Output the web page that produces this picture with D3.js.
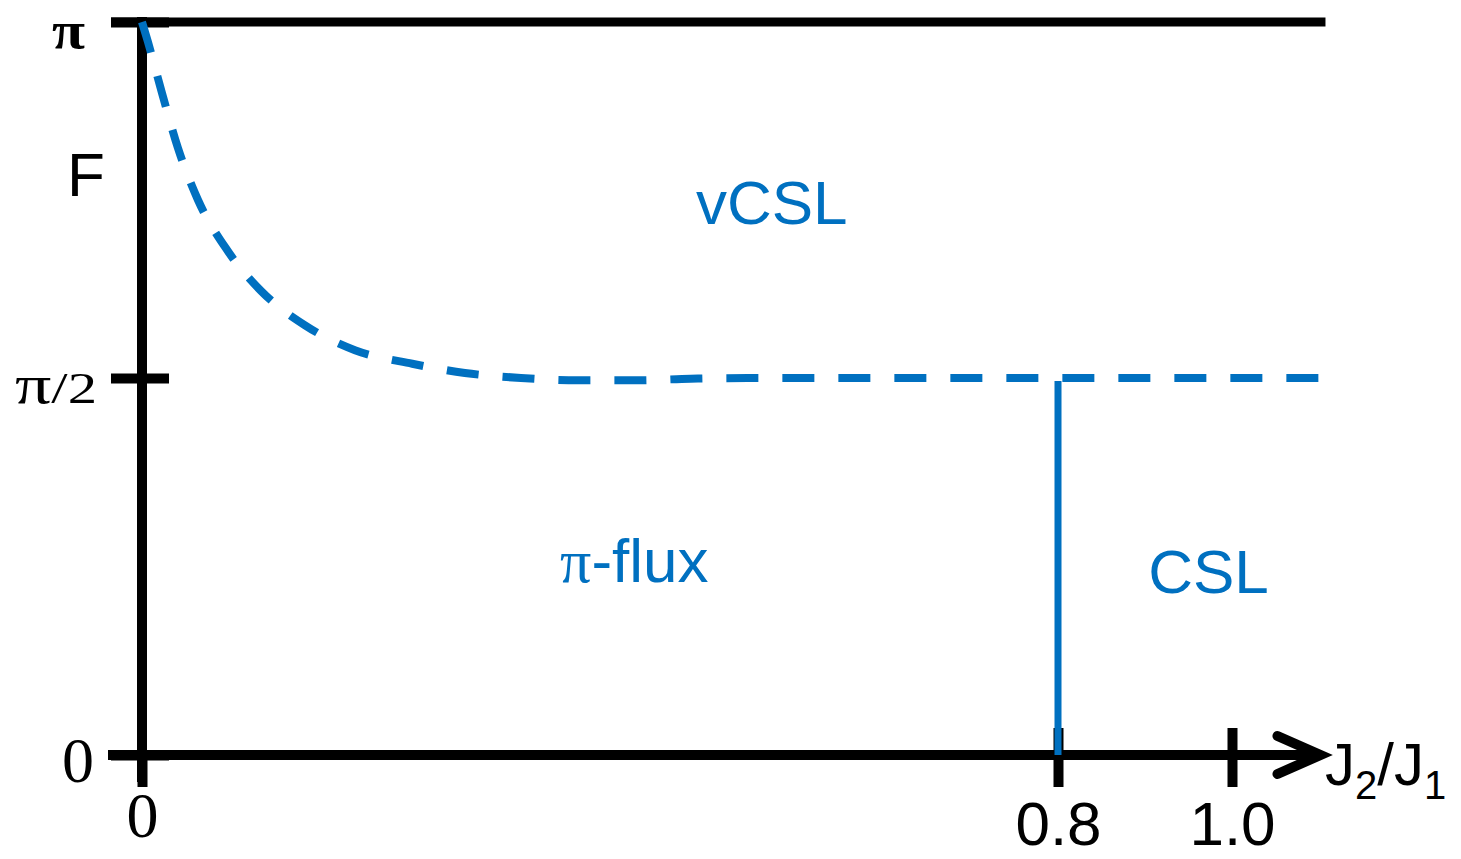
<!DOCTYPE html>
<html>
<head>
<meta charset="utf-8">
<script src="https://cdn.jsdelivr.net/npm/d3@7"></script>
<style>
  body { margin: 0; background: #ffffff; }
  svg { display: block; }
</style>
</head>
<body>
<svg id="chart" width="1461" height="859"></svg>
<script>
// Coupling ratio J2/J1 ticks (schematic axis, piecewise linear)
const xTicks = [0, 0.8, 1.0];
const xTickLabels = ["0", "0.8", "1.0"];
// Flux per plaquette, in units of π
const yTicks = [0, 0.5, 1];
const yTickLabels = ["0", "π/2", "π"];
const xMax = 1.104;

// vCSL / π-flux phase boundary (dashed)
const boundaryJ    = [0, 0.0052, 0.0175, 0.0314, 0.0489, 0.0742, 0.1048, 0.1424, 0.186, 0.236, 0.282, 0.331, 0.381, 0.431, 0.479, 0.529, 0.8, 1.102];
const boundaryFlux = [1.0, 0.972, 0.900, 0.823, 0.750, 0.680, 0.621, 0.574, 0.539, 0.520, 0.507, 0.500, 0.497, 0.497, 0.499, 0.500, 0.500, 0.500];

// π-flux / CSL transition (solid vertical)
const transitionJ = 0.8;
const transitionFlux = [0, 0.5];

// Phase names and where they sit in the diagram
const phaseNames = ["vCSL", "π-flux", "CSL"];
const phaseJ     = [0.55, 0.43, 0.973];
const phaseFlux  = [0.716, 0.229, 0.215];

const BLUE = "#0070C0";
const SERIF = "'Liberation Serif', 'Times New Roman', serif";
const SANS = "'Liberation Sans', Arial, sans-serif";

const svg = d3.select("#chart");

const x = d3.scaleLinear().domain(xTicks).range([142, 1058, 1232]);
const y = d3.scaleLinear().domain(yTicks).range([755, 378, 22]);

// ---- Y axis ----
const yAxisG = svg.append("g").attr("transform", `translate(${x(0)},0)`);
yAxisG.call(
  d3.axisLeft(y).tickValues(yTicks).tickSize(0)
    .tickFormat((d, i) => yTickLabels[i])
);
yAxisG.select(".domain").remove();
yAxisG.append("line")
  .attr("x1", 0).attr("x2", 0)
  .attr("y1", y(1) - 5).attr("y2", y(0) + 27)
  .attr("stroke", "#000").attr("stroke-width", 10);
yAxisG.selectAll(".tick line")
  .attr("x1", -31).attr("x2", 27)
  .attr("stroke", "#000").attr("stroke-width", 10);

const yLabelStyle = {
  "0":   { size: 64, weight: "normal", x: -80, y: 26 },
  "π/2": { size: 44, weight: "normal", x: -127, y: 24, len: 82 },
  "π":   { size: 52, weight: "bold",   x: -90, y: 25, len: 33 }
};
yAxisG.selectAll(".tick text").each(function () {
  const t = d3.select(this);
  const label = t.text();
  const s = yLabelStyle[label];
  t.attr("x", s.x).attr("y", s.y).attr("dy", null)
    .attr("text-anchor", "start")
    .attr("fill", "#000")
    .style("font-family", SERIF)
    .style("font-size", s.size + "px")
    .style("font-weight", s.weight);
  if (label === "π/2") {
    // larger π glyph next to the "/2"
    t.text(null);
    t.append("tspan").style("font-size", "54px").text("π");
    t.append("tspan").text("/2");
  }
  if (s.len) t.attr("textLength", s.len).attr("lengthAdjust", "spacingAndGlyphs");
});

// upper bound line at flux = π
svg.append("line")
  .attr("x1", x(0) - 31).attr("x2", x(xMax) + 3)
  .attr("y1", y(1)).attr("y2", y(1))
  .attr("stroke", "#000").attr("stroke-width", 9);

// "F" axis label
svg.append("text")
  .attr("x", 67).attr("y", 196)
  .attr("fill", "#000")
  .style("font-family", SANS)
  .style("font-size", "62px")
  .text("F");

// ---- X axis ----
const xAxisG = svg.append("g").attr("transform", `translate(0,${y(0)})`);
xAxisG.call(
  d3.axisBottom(x).tickValues(xTicks).tickSize(0)
    .tickFormat((d, i) => xTickLabels[i])
);
xAxisG.select(".domain").remove();
xAxisG.append("line")
  .attr("x1", x(0) - 34).attr("x2", x(xMax) - 5)
  .attr("y1", 0).attr("y2", 0)
  .attr("stroke", "#000").attr("stroke-width", 10);
xAxisG.selectAll(".tick line")
  .attr("y1", d => d === 0 ? 0 : -27).attr("y2", 32)
  .attr("stroke", "#000").attr("stroke-width", 10);
xAxisG.selectAll(".tick text")
  .attr("y", d => d === 0 ? 82 : 90).attr("dy", null)
  .attr("text-anchor", "middle")
  .attr("fill", "#000")
  .style("font-family", d => d === 0 ? SERIF : SANS)
  .style("font-size", d => d === 0 ? "64px" : "62px");

// arrow head
const tipX = x(xMax) - 2;
xAxisG.append("polyline")
  .attr("points", `${tipX - 43},-19 ${tipX},0 ${tipX - 43},19`)
  .attr("fill", "none").attr("stroke", "#000")
  .attr("stroke-width", 10)
  .attr("stroke-linecap", "round").attr("stroke-linejoin", "miter");

// axis title J2/J1
const title = svg.append("text")
  .attr("x", 1325).attr("y", 785)
  .attr("fill", "#000")
  .style("font-family", SANS)
  .style("font-size", "60px");
title.append("tspan").attr("fill", "#000").text("J");
title.append("tspan").attr("fill", "#000").attr("dy", 14).style("font-size", "40px").text("2");
title.append("tspan").attr("fill", "#000").attr("dy", -14).text("/J");
title.append("tspan").attr("fill", "#000").attr("dy", 14).style("font-size", "40px").text("1");

// ---- Phase boundaries ----
const boundary = boundaryJ.map((j, i) => [j, boundaryFlux[i]]);
svg.append("path")
  .datum(boundary)
  .attr("d", d3.line().x(d => x(d[0])).y(d => y(d[1])).curve(d3.curveMonotoneX))
  .attr("fill", "none")
  .attr("stroke", BLUE)
  .attr("stroke-width", 8)
  .attr("stroke-dasharray", "32 24");

svg.append("line")
  .attr("x1", x(transitionJ)).attr("x2", x(transitionJ))
  .attr("y1", y(transitionFlux[1]) + 3).attr("y2", y(transitionFlux[0]))
  .attr("stroke", BLUE).attr("stroke-width", 7);

// ---- Phase labels ----
phaseNames.forEach((name, i) => {
  const t = svg.append("text")
    .attr("x", x(phaseJ[i])).attr("y", y(phaseFlux[i]))
    .attr("text-anchor", "middle")
    .attr("fill", BLUE)
    .style("font-family", SANS)
    .style("font-size", "62px");
  if (name.startsWith("π")) {
    t.append("tspan").style("font-family", SERIF).text("π");
    t.append("tspan").text(name.slice(1));
  } else {
    t.text(name);
  }
});
</script>
</body>
</html>
